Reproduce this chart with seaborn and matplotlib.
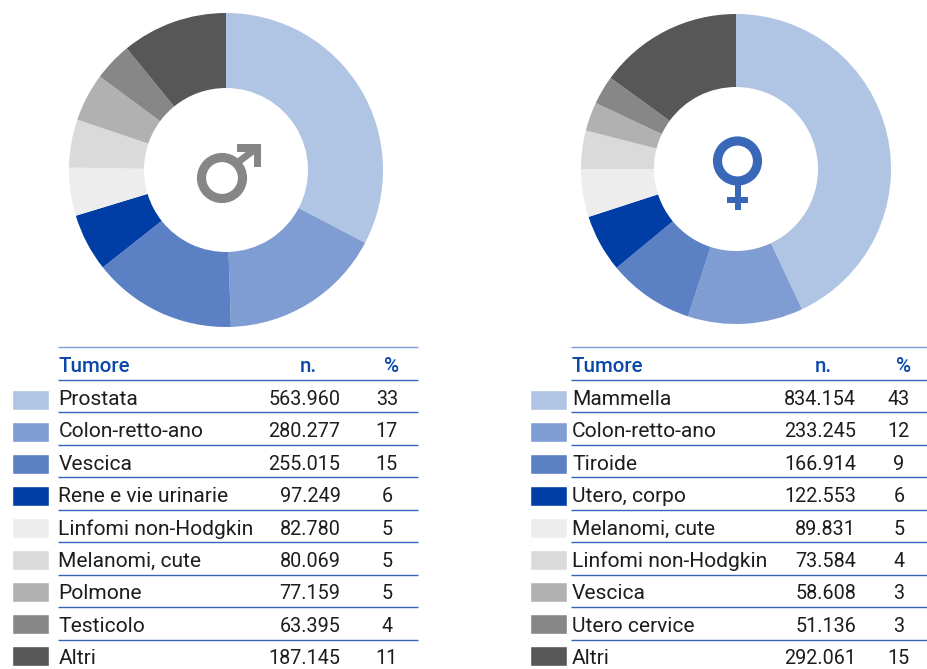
import matplotlib
matplotlib.use('Agg')
import matplotlib.pyplot as plt
from matplotlib.patches import Circle, Rectangle, Polygon
import seaborn as sns
import pandas as pd

# dati tabella
tumori_m = ['Prostata', 'Colon-retto-ano', 'Vescica', 'Rene e vie urinarie', 'Linfomi non-Hodgkin',
            'Melanomi, cute', 'Polmone', 'Testicolo', 'Altri']
n_m = [563960, 280277, 255015, 97249, 82780, 80069, 77159, 63395, 187145]
pct_m = [33, 17, 15, 6, 5, 5, 5, 4, 11]

tumori_f = ['Mammella', 'Colon-retto-ano', 'Tiroide', 'Utero, corpo', 'Melanomi, cute',
            'Linfomi non-Hodgkin', 'Vescica', 'Utero cervice', 'Altri']
n_f = [834154, 233245, 166914, 122553, 89831, 73584, 58608, 51136, 292061]
pct_f = [43, 12, 9, 6, 5, 4, 3, 3, 15]

colori = ['#B0C4E4', '#809DD3', '#5B80C4', '#003DA5', '#EDEDED', '#DADADA', '#B1B1B1', '#878787', '#575757']

sns.set_theme(style='white')
plt.rcParams['font.family'] = ['Roboto', 'DejaVu Sans']

W, H = 927, 669
fig = plt.figure(figsize=(W / 100, H / 100), dpi=100)
palette = sns.color_palette(colori)

# asse in pixel per testi e linee
ax = fig.add_axes([0, 0, 1, 1])
ax.set_xlim(0, W)
ax.set_ylim(H, 0)
ax.axis('off')


def box(x0, y0, x1, y1):
    return [x0 / W, 1 - y1 / H, (x1 - x0) / W, (y1 - y0) / H]


def disegna_torta(valori, cx, cy, r, r_in):
    a = fig.add_axes(box(cx - r, cy - r, cx + r, cy + r))
    a.pie(valori, colors=palette, startangle=90, counterclock=False, radius=1,
          wedgeprops={'width': 1 - r_in / r, 'linewidth': 0})
    a.set_xlim(-1, 1)
    a.set_ylim(-1, 1)


def disegna_tabella(nomi, numeri, perc, x_sw, x0, x1, x_n, x_p, x_hn, x_hp):
    # quadratini colorati
    a = fig.add_axes(box(x_sw, 384, x_sw + 37, 672))
    df = pd.DataFrame({'tumore': nomi, 'v': [1] * len(nomi)})
    sns.barplot(data=df, y='tumore', x='v', hue='tumore', palette=palette, legend=False,
                width=0.625, saturation=1, ax=a)
    a.set_xlim(0, 1)
    a.set_ylim(8.5, -0.5)
    a.axis('off')

    # linee
    for i in range(10):
        y = 347 + i * 32.5
        ax.plot([x0, x1], [y, y], color='#7C9BD6' if i == 0 else '#3563B8', lw=1.0, solid_capstyle='butt')

    # intestazione
    hs = dict(color='#0B48A8', fontsize=14.8, fontweight='medium', va='baseline')
    ax.text(x0 + 0.5, 372, 'Tumore', ha='left', **hs)
    ax.text(x_hn, 372, 'n.', ha='center', **hs)
    ax.text(x_hp, 372, '%', ha='center', **hs)

    # righe
    ts = dict(color='#1D1D1B', va='baseline')
    for i in range(len(nomi)):
        y = 405 + i * 32.4
        ax.text(x0 + 0.5, y, nomi[i], ha='left', fontsize=15.1, **ts)
        ax.text(x_n, y, f'{numeri[i]:,}'.replace(',', '.'), ha='right', fontsize=14.2, **ts)
        ax.text(x_p, y, str(perc[i]), ha='center', fontsize=14.2, **ts)


# la torta segue le percentuali arrotondate
disegna_torta(pct_m, 226, 170, 157, 82)
disegna_torta(pct_f, 736, 169, 155, 82)

disegna_tabella(tumori_m, n_m, pct_m, 12, 58, 418, 340.5, 387, 308, 392)
disegna_tabella(tumori_f, n_f, pct_f, 530, 571.5, 927, 856, 899, 823, 904)

# simboli sopra le torte
top = fig.add_axes([0, 0, 1, 1])
top.set_xlim(0, W)
top.set_ylim(H, 0)
top.axis('off')
grigio = '#868686'
top.add_patch(Circle((222, 178), 20.5, fill=False, ec=grigio, lw=6.6))
top.plot([237, 258], [163, 147], color=grigio, lw=5, solid_capstyle='butt')
top.add_patch(Polygon([(237, 144), (261, 144), (261, 167), (254, 167), (254, 151.5), (237, 151.5)], color=grigio, lw=0))

blu = '#3A68B8'
top.add_patch(Circle((737.5, 161), 20, fill=False, ec=blu, lw=6.6))
top.add_patch(Rectangle((735, 184), 6, 26, color=blu, lw=0))
top.add_patch(Rectangle((727, 197), 21.5, 6, color=blu, lw=0))

fig.savefig('out.png', dpi=100, facecolor='white')
